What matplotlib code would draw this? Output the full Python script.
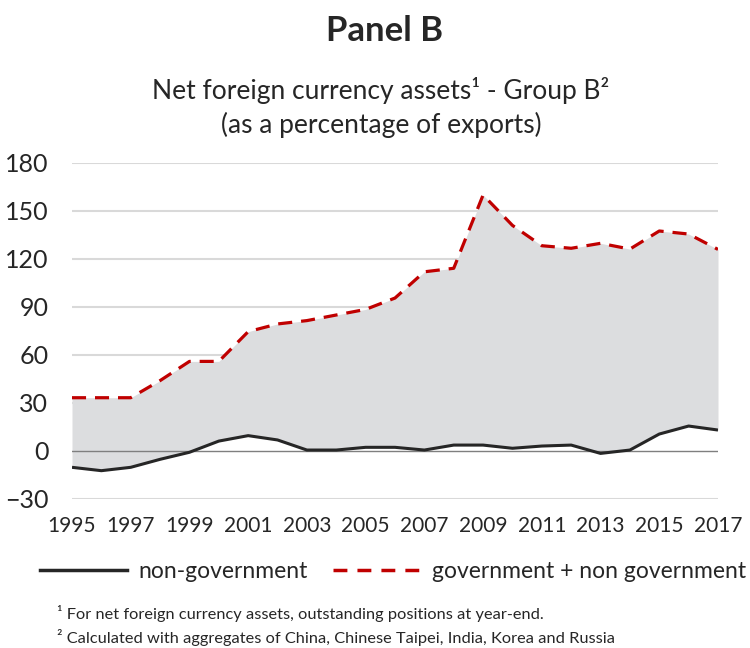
import matplotlib
matplotlib.use("Agg")
import matplotlib.pyplot as plt
from matplotlib.lines import Line2D

years = list(range(1995, 2018))
non_government = [-10.2, -12.3, -10.2, -5.2, -0.8, 6.2, 9.6, 6.9, 0.6, 0.6, 2.3, 2.3,
                  0.6, 3.7, 3.7, 1.7, 3.1, 3.7, -1.5, 0.6, 10.6, 15.6, 13.1]
government_plus = [33.3, 33.3, 33.3, 44.0, 56.0, 56.0, 74.6, 79.4, 81.5, 85.0, 88.5, 95.6,
                   112.0, 114.2, 160.0, 141.0, 128.3, 126.7, 129.8, 126.2, 137.5, 135.6, 126.0]
y_ticks = [-30, 0, 30, 60, 90, 120, 150, 180]
x_ticks = list(range(1995, 2018, 2))

plt.rcParams['font.family'] = ['Lato', 'DejaVu Sans']
text_color = '#262626'

fig = plt.figure(figsize=(7.5, 6.48), dpi=100)
ax = fig.add_axes([72/750, 1-499/648, (718-72)/750, (499-163)/648])

ax.fill_between(years, non_government, government_plus, color='#DCDDDF', lw=0, zorder=1)
ax.axhline(0, color='#7F7F7F', lw=1.0, zorder=2)
for t in y_ticks:
    if t != 0:
        ax.axhline(t, color='#D9D9D9', lw=1.5, zorder=0)
ax.plot(years, non_government, color=text_color, lw=2.2, zorder=3, solid_capstyle='butt')
ax.plot(years, government_plus, color='#C00000', lw=2.3, ls=(0, (4.4, 2.8)), zorder=3)

ax.set_xlim(1995, 2017)
ax.set_ylim(-30, 180)
ax.set_yticks(y_ticks)
ax.set_xticks(x_ticks)
ax.set_xticklabels([str(x) for x in x_ticks])
ax.tick_params(length=0, colors=text_color)
ax.tick_params(axis='y', pad=17, labelsize=18)
ax.tick_params(axis='x', pad=12, labelsize=15)
for s in ax.spines.values():
    s.set_visible(False)

fig.text(385/750, 1-31/648, 'Panel B', ha='center', va='center', fontsize=25, fontweight='bold', color=text_color)
fig.text(381/750, 1-91/648, 'Net foreign currency assets¹ - Group B²', ha='center', va='center', fontsize=19, color=text_color)
fig.text(381/750, 1-125/648, '(as a percentage of exports)', ha='center', va='center', fontsize=19, color=text_color)

handles = [Line2D([], [], color=text_color, lw=2.5),
           Line2D([], [], color='#C00000', lw=2.5, ls=(0, (4.0, 2.9)))]
fig.legend(handles, ['non-government', 'government + non government'], loc='center',
           bbox_to_anchor=(393/750, 1-572/648), ncol=2, frameon=False, fontsize=16.5,
           handlelength=3.8, handletextpad=0.5, columnspacing=1.1, labelcolor=text_color)

fig.text(57/750, 1-614/648, '¹ For net foreign currency assets, outstanding positions at year-end.',
         ha='left', va='center', fontsize=11.8, color=text_color)
fig.text(57/750, 1-638/648, '² Calculated with aggregates of China, Chinese Taipei, India, Korea and Russia',
         ha='left', va='center', fontsize=11.8, color=text_color)

fig.savefig('out.png', dpi=100)
